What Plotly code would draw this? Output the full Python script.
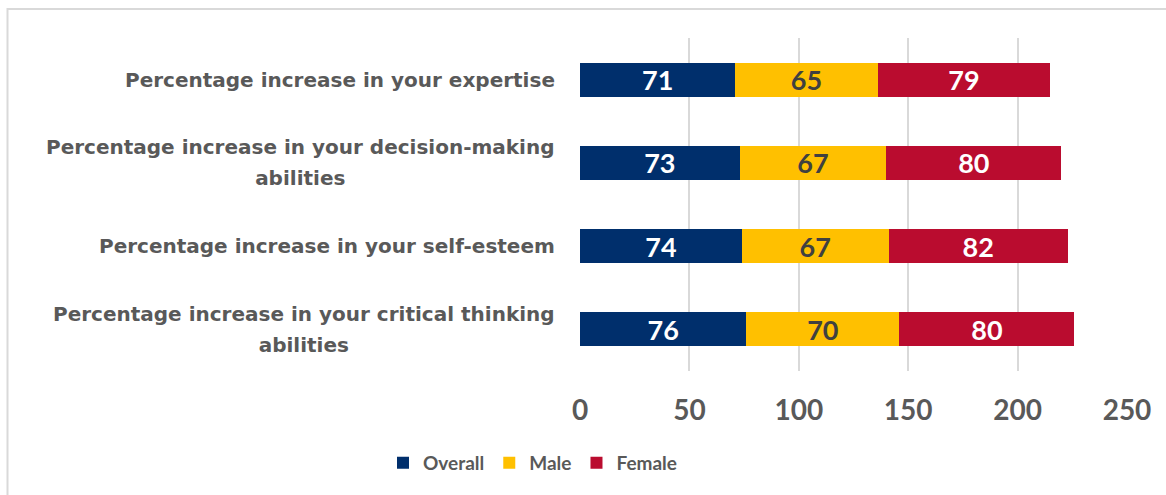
import plotly.graph_objects as go

categories = [
    "Percentage increase in your expertise",
    "Percentage increase in your decision-making<br>abilities",
    "Percentage increase in your self-esteem",
    "Percentage increase in your critical thinking<br>abilities",
]
overall = [71, 73, 74, 76]
male = [65, 67, 67, 70]
female = [79, 80, 82, 80]
tick_vals = [0, 50, 100, 150, 200, 250]

FONT = "Lato"
LABEL_FONT = "DejaVu Sans"
GRAY = "#595959"

series = [
    ("Overall", overall, "#002F6C", "white"),
    ("Male", male, "#FFC000", "#404040"),
    ("Female", female, "#BA0C2F", "white"),
]

fig = go.Figure()
for name, vals, color, tcolor in series:
    fig.add_trace(go.Bar(
        name=name, y=categories, x=vals, orientation="h",
        marker=dict(color=color, line=dict(width=0)),
        text=[str(v) for v in vals], textposition="inside",
        insidetextanchor="middle", textangle=0, constraintext="none",
        textfont=dict(family=FONT, size=27, color=tcolor, weight="bold"),
        width=0.41,
    ))

L, R, T, B = 580, 39, 37.5, 124
W, H = 1166, 495
pw, ph = W - L - R, H - T - B


def label_text(c):
    return "<br>".join('<span style="font-size:20px">%s</span>' % part for part in c.split("<br>"))


annotations = []
for c in categories:
    annotations.append(dict(
        x=0, xref="paper", y=c, yref="y", xanchor="right", xshift=-23,
        text=label_text(c), showarrow=False, align="center",
        font=dict(family=LABEL_FONT, size=24, color=GRAY, weight="bold"),
    ))

fig.update_layout(
    width=W, height=H,
    margin=dict(l=L, r=R, t=T, b=B, pad=0),
    barmode="stack",
    plot_bgcolor="white", paper_bgcolor="white",
    font=dict(family=FONT, color=GRAY),
    xaxis=dict(range=[0, 250], tickvals=tick_vals, showgrid=True,
               gridcolor="#D9D9D9", gridwidth=1.5, zeroline=False,
               showline=False, ticks="", ticklen=0, ticklabelstandoff=20,
               tickfont=dict(family=FONT, size=28, color=GRAY, weight="bold")),
    yaxis=dict(categoryorder="array", categoryarray=categories,
               autorange="reversed", showticklabels=False, showgrid=False,
               zeroline=False, showline=False, ticks=""),
    legend=dict(orientation="h", x=(383 - L) / pw, xanchor="left",
                y=(H - B - 463) / ph, yanchor="middle",
                font=dict(family=FONT, size=19, color=GRAY, weight="bold"),
                traceorder="normal", itemwidth=30, tracegroupgap=0),
    annotations=annotations,
    shapes=[dict(type="rect", xref="paper", yref="paper",
                 x0=(7.5 - L) / pw, x1=(1175 - L) / pw,
                 y0=(H - B - 500) / ph, y1=(H - B - 8.5) / ph,
                 line=dict(color="#D9D9D9", width=2), layer="below")],
)

fig.write_html("out.html", config={"displayModeBar": False})
with open("out.html", "r", encoding="utf-8") as f:
    html = f.read()
html = html.replace("<body>", '<body style="margin:0">', 1)
with open("out.html", "w", encoding="utf-8") as f:
    f.write(html)
